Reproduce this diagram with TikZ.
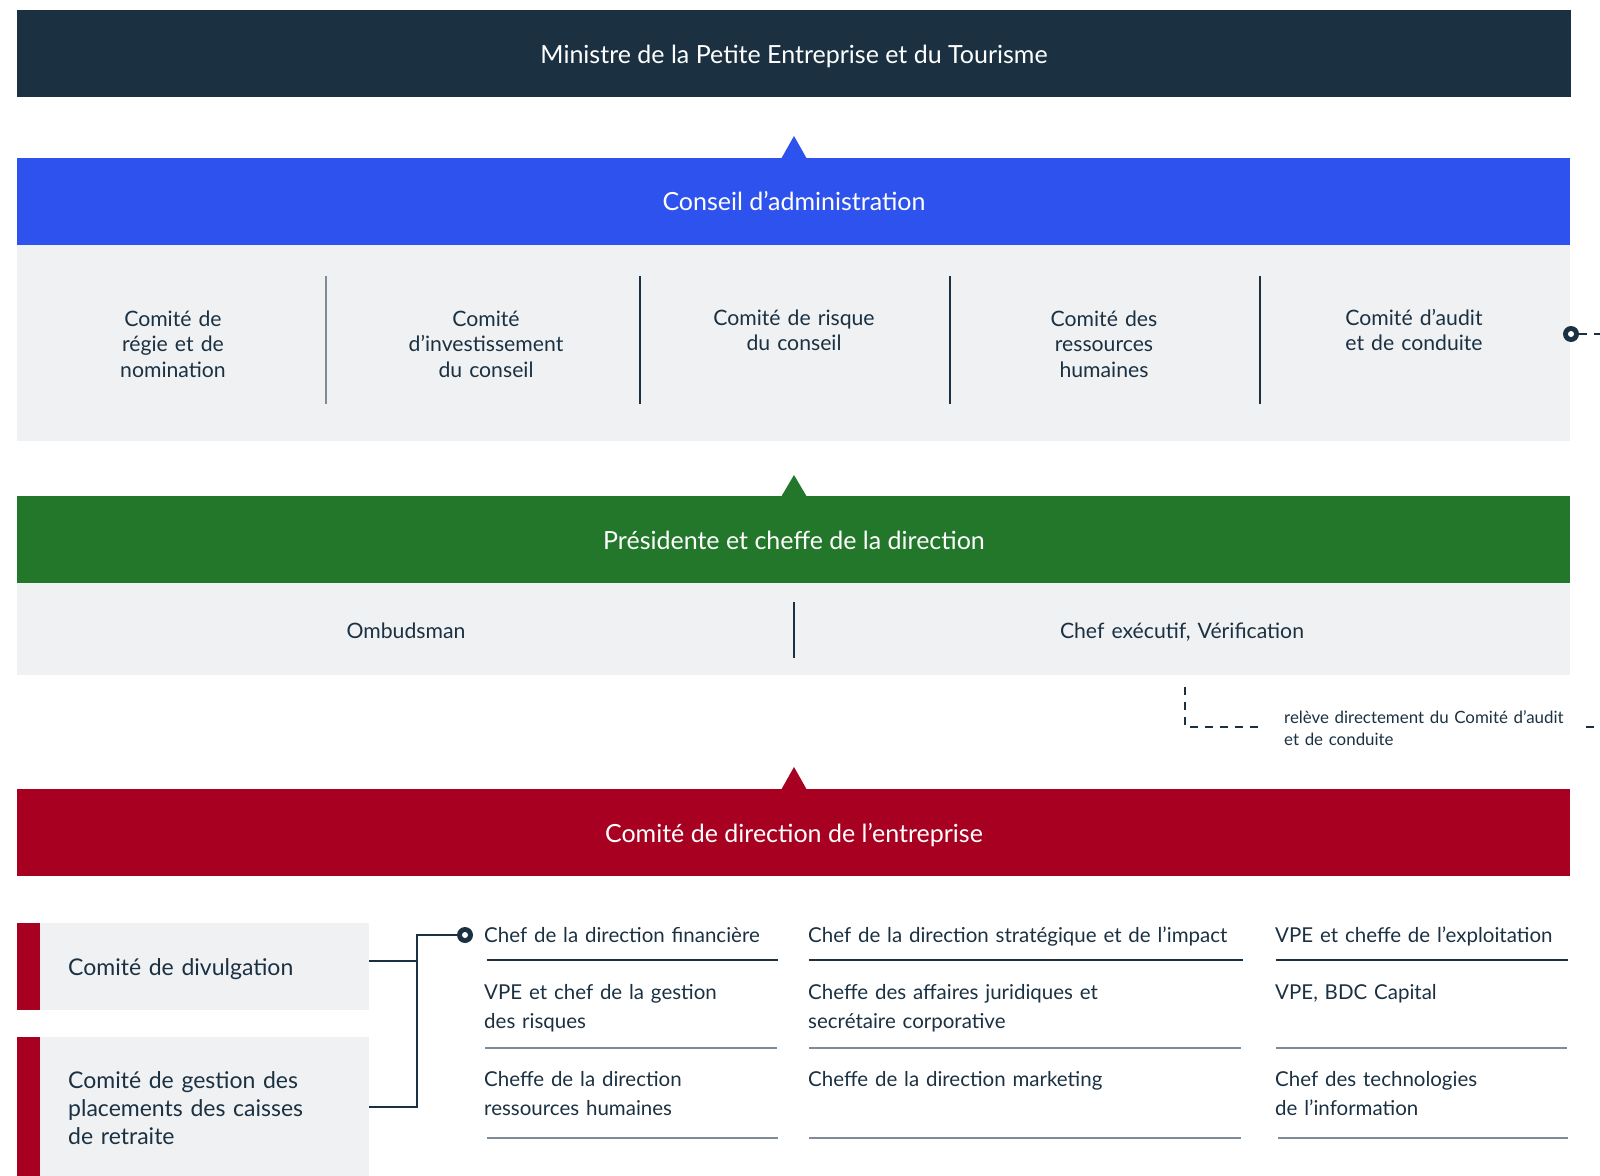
\documentclass[tikz,border=0pt]{standalone}
\usepackage{fontspec}
\setmainfont{Lato}
\definecolor{navy}{HTML}{1B3142}
\definecolor{cblue}{HTML}{2D52EE}
\definecolor{cgreen}{HTML}{22772B}
\definecolor{cred}{HTML}{A80020}
\definecolor{panelgrey}{HTML}{EFF1F3}
\definecolor{lightline}{HTML}{7F8C97}
\begin{document}
\begin{tikzpicture}[x=1pt,y=-1pt,
  band/.style={anchor=north west, minimum width=1553, minimum height=87, inner sep=0},
  bandtext/.style={anchor=base, inner sep=0, text=white, font=\fontsize{25}{29}\selectfont},
  panel/.style={anchor=north west, fill=panelgrey, inner sep=0},
  comite/.style={anchor=base, text width=260, align=center, inner sep=0, text=navy, font=\fontsize{21.2}{25.5}\selectfont},
  item/.style={anchor=base west, text width=450, align=left, inner sep=0, text=navy, font=\fontsize{20.5}{29}\selectfont},
  boxtext/.style={anchor=base west, text width=300, align=left, inner sep=0, text=navy, font=\fontsize{23}{28}\selectfont},
  sepline/.style={draw=navy, line width=1.5},
  rowdark/.style={draw=navy, line width=1.8},
  rowlight/.style={draw=lightline, line width=1.8},
  conn/.style={draw=navy, line width=1.5},
  dashline/.style={draw=navy, line width=1.3, dash pattern=on 8 off 7},
  dotnode/.style={circle, fill=navy, minimum size=16, inner sep=0},
  dothole/.style={circle, fill=white, minimum size=6, inner sep=0}
]
\useasboundingbox (0,0) rectangle (1600,1175);
\clip (0,0) rectangle (1600,1175);

% Minister
\node[band, fill=navy, minimum width=1554] (min) at (17,10) {};
\node[bandtext] (mint) at (794,63) {Ministre de la Petite Entreprise et du Tourisme};

% Conseil
\fill[cblue] (781,159) -- (794,136) -- (807,159) -- cycle;
\node[band, fill=cblue] (ca) at (17,158) {};
\node[bandtext] (cat) at (794,210) {Conseil d’administration};
\node[panel, minimum width=1553, minimum height=196] (comites) at (17,245) {};
\draw[sepline, draw=lightline] (326,276) -- (326,404);
\draw[sepline] (640,276) -- (640,404);
\draw[sepline] (950,276) -- (950,404);
\draw[sepline] (1260,276) -- (1260,404);
\node[comite] (c1) at (173,326) {Comité de\\régie et de\\nomination};
\node[comite] (c2) at (486,326) {Comité\\d’investissement\\du conseil};
\node[comite] (c3) at (794,325) {Comité de risque\\du conseil};
\node[comite] (c4) at (1104,326) {Comité des\\ressources\\humaines};
\node[comite] (c5) at (1414,325) {Comité d’audit\\et de conduite};
\node[dotnode] (auddot) at (1571,334) {};
\node[dothole] at (auddot) {};

% President
\fill[cgreen] (781,497) -- (794,475) -- (807,497) -- cycle;
\node[band, fill=cgreen] (pres) at (17,496) {};
\node[bandtext] (prest) at (794,549) {Présidente et cheffe de la direction};
\node[panel, minimum width=1553, minimum height=92] (direct) at (17,583) {};
\draw[sepline] (794,602) -- (794,658);
\node[comite, text width=400] (omb) at (406,638) {Ombudsman};
\node[comite, text width=400] (chefex) at (1182,638) {Chef exécutif, Vérification};

% dashed reporting line
\coordinate (dtop) at (1185,687);
\coordinate (dcorner) at (1185,727);
\coordinate (dleft) at (1260,727);
\coordinate (dright) at (1584,727);
\draw[dashline] (dtop) -- (dcorner) -- (dleft);
\draw[dashline] (auddot.east) -- (1630,334) -- (1630,727) -- (dright);
\node[anchor=base west, text width=310, align=left, inner sep=0, text=navy, font=\fontsize{16.9}{22}\selectfont] (note) at (1284,723) {relève directement du Comité d’audit\\et de conduite};

% Comite de direction
\fill[cred] (781,790) -- (794,767) -- (807,790) -- cycle;
\node[band, fill=cred] (cde) at (17,789) {};
\node[bandtext] (cdet) at (794,842) {Comité de direction de l’entreprise};

% left boxes
\node[panel, minimum width=352, minimum height=87] (div) at (17,923) {};
\fill[cred] (17,923) rectangle (40,1010);
\node[boxtext] (divt) at (68,975) {Comité de divulgation};
\node[panel, minimum width=352, minimum height=150] (gest) at (17,1037) {};
\fill[cred] (17,1037) rectangle (40,1190);
\node[boxtext] (gestt) at (68,1088) {Comité de gestion des\\placements des caisses\\de retraite};

% connectors
\node[dotnode] (cfodot) at (465,935) {};
\node[dothole] at (cfodot) {};
\coordinate (jtop) at (417,935);
\coordinate (jdiv) at (417,961);
\coordinate (jgest) at (417,1107);
\draw[conn] (div.east |- jdiv) -- (jdiv);
\draw[conn] (gest.east |- jgest) -- (jgest) -- (jtop) -- (cfodot.west);

% list
\node[item] (i11) at (484,942) {Chef de la direction financière};
\node[item] (i12) at (484,999) {VPE et chef de la gestion\\des risques};
\node[item] (i13) at (484,1086) {Cheffe de la direction\\ressources humaines};
\node[item] (i21) at (808,942) {Chef de la direction stratégique et de l’impact};
\node[item] (i22) at (808,999) {Cheffe des affaires juridiques et\\secrétaire corporative};
\node[item] (i23) at (808,1086) {Cheffe de la direction marketing};
\node[item] (i31) at (1275,942) {VPE et cheffe de l’exploitation};
\node[item] (i32) at (1275,999) {VPE, BDC Capital};
\node[item] (i33) at (1275,1086) {Chef des technologies\\de l’information};

\draw[rowdark] (487,960) -- (778,960);
\draw[rowdark] (809,960) -- (1243,960);
\draw[rowdark] (1276,960) -- (1568,960);
\draw[rowlight] (485,1048) -- (777,1048);
\draw[rowlight] (809,1048) -- (1241,1048);
\draw[rowlight] (1276,1048) -- (1567,1048);
\draw[rowlight] (487,1138) -- (778,1138);
\draw[rowlight] (809,1138) -- (1241,1138);
\draw[rowlight] (1278,1138) -- (1568,1138);
\end{tikzpicture}
\end{document}
